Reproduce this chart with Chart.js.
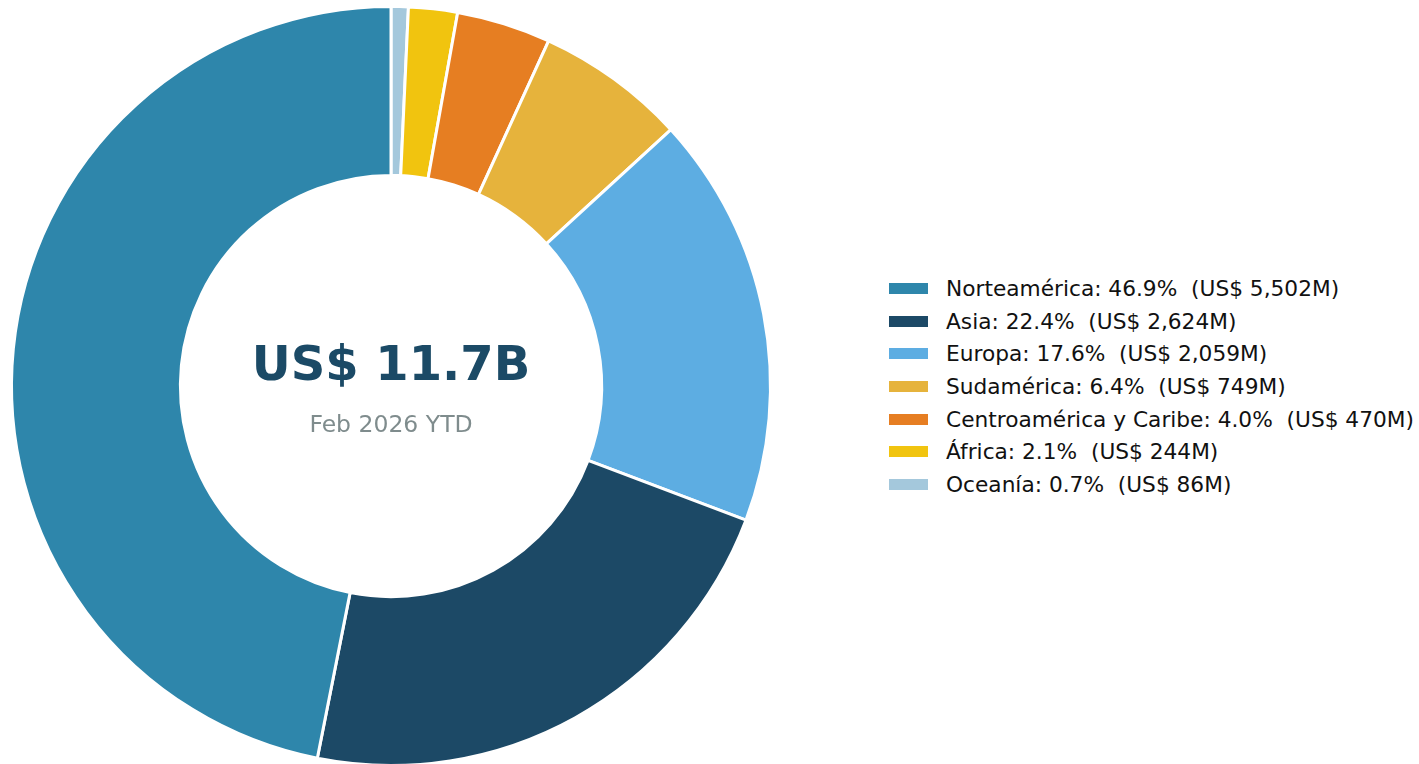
<!DOCTYPE html>
<html>
<head>
<meta charset="utf-8">
<script src="https://cdn.jsdelivr.net/npm/chart.js@4/dist/chart.umd.min.js"></script>
<style>
    html, body { margin: 0; padding: 0; background: #fff; }
    #wrap { position: relative; width: 1419px; height: 764px; overflow: hidden; }
    #chartBox { position: absolute; left: 0; top: 0; width: 782px; height: 767px; }
    #legend {
        position: absolute; left: 889px; top: 272px;
        font-family: "DejaVu Sans", sans-serif; font-size: 21.7px; color: #111;
    }
    .row { display: flex; align-items: center; height: 32.7px; white-space: pre; }
    .swatch { width: 39px; height: 11px; margin-right: 18px; }
</style>
</head>
<body>
<div id="wrap">
    <div id="chartBox"><canvas id="donut"></canvas></div>
    <div id="legend"></div>
</div>
<script>
// Regions, in legend order (counter-clockwise from the top in the picture)
const regions = ['Norteamérica', 'Asia', 'Europa', 'Sudamérica', 'Centroamérica y Caribe', 'África', 'Oceanía'];
const valuesM = [5502, 2624, 2059, 749, 470, 244, 86];
const shares = ['46.9', '22.4', '17.6', '6.4', '4.0', '2.1', '0.7'];
const colors = ['#2e86ab', '#1c4966', '#5dade2', '#e6b33c', '#e67e22', '#f1c40f', '#a4c8dc'];
const periodLabel = 'Feb 2026 YTD';

const total = valuesM.reduce((a, b) => a + b, 0);

function fmtM(v) {
    return 'US$ ' + v.toLocaleString('en-US') + 'M';
}

// Build legend
const legendEl = document.getElementById('legend');
regions.forEach((name, i) => {
    const row = document.createElement('div');
    row.className = 'row';
    const sw = document.createElement('span');
    sw.className = 'swatch';
    sw.style.background = colors[i];
    const txt = document.createElement('span');
    txt.textContent = `${name}: ${shares[i]}%  (${fmtM(valuesM[i])})`;
    row.appendChild(sw);
    row.appendChild(txt);
    legendEl.appendChild(row);
});

// Chart.js goes clockwise, the picture goes counter-clockwise: reverse
const rev = arr => arr.slice().reverse();

const centerText = {
    id: 'centerText',
    afterDraw(chart) {
        const arc = chart.getDatasetMeta(0).data[0];
        if (!arc) return;
        const ctx = chart.ctx;
        ctx.save();
        ctx.textAlign = 'center';
        ctx.textBaseline = 'middle';
        ctx.fillStyle = '#1b4a66';
        ctx.font = 'bold 48px "DejaVu Sans"';
        ctx.fillText('US$ ' + (total / 1000).toFixed(1) + 'B', arc.x, arc.y - 18);
        ctx.fillStyle = '#7f8c8d';
        ctx.font = '23.5px "DejaVu Sans"';
        ctx.fillText(periodLabel, arc.x, arc.y + 40);
        ctx.restore();
    }
};

new Chart(document.getElementById('donut'), {
    type: 'doughnut',
    data: {
        labels: rev(regions),
        datasets: [{
            data: rev(valuesM),
            backgroundColor: rev(colors),
            borderColor: '#ffffff',
            borderWidth: 3
        }]
    },
    options: {
        responsive: true,
        maintainAspectRatio: false,
        animation: false,
        cutout: '55.5%',
        layout: { padding: { top: 5 } },
        plugins: {
            legend: { display: false },
            tooltip: { enabled: false }
        }
    },
    plugins: [centerText]
});
</script>
</body>
</html>
